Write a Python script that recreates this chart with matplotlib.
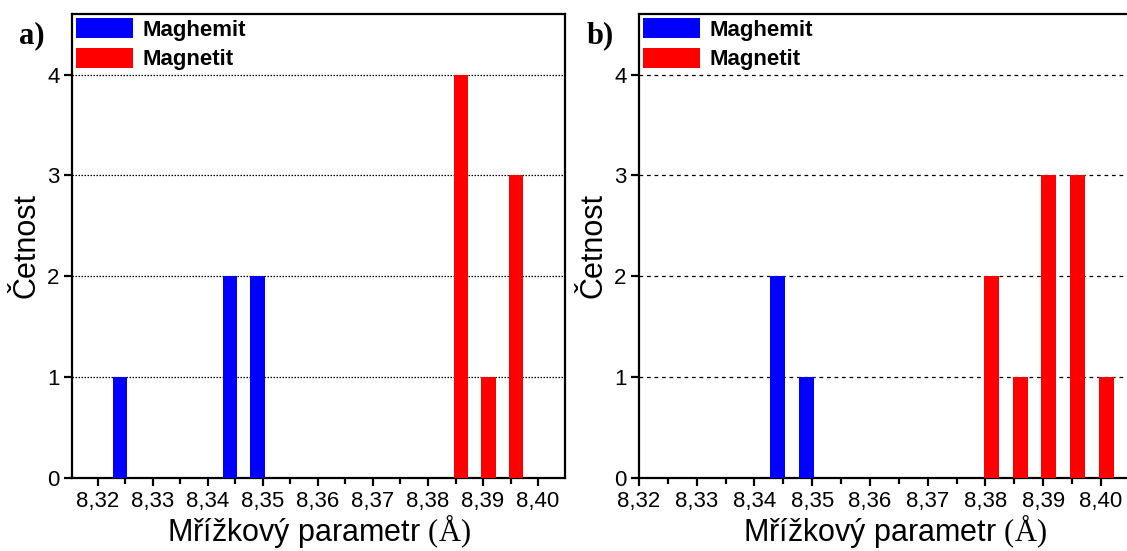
import matplotlib
matplotlib.use("Agg")
import matplotlib.pyplot as plt
from matplotlib.ticker import MultipleLocator, FuncFormatter
from matplotlib.patches import Patch

plt.rcParams['font.family'] = ['Liberation Sans', 'DejaVu Sans']
plt.rcParams['mathtext.fontset'] = 'custom'
plt.rcParams['mathtext.rm'] = 'Liberation Serif'

# Panel a data
a_maghemit_x = [8.324, 8.344, 8.349]
a_maghemit_n = [1, 2, 2]
a_magnetit_x = [8.386, 8.391, 8.396]
a_magnetit_n = [4, 1, 3]

# Panel b data
b_maghemit_x = [8.344, 8.349]
b_maghemit_n = [2, 1]
b_magnetit_x = [8.381, 8.386, 8.391, 8.396, 8.401]
b_magnetit_n = [2, 1, 3, 3, 1]

xticks = [8.32, 8.33, 8.34, 8.35, 8.36, 8.37, 8.38, 8.39, 8.40]
yticks = [0, 1, 2, 3, 4]
series_names = ["Maghemit", "Magnetit"]
panel_labels = ["a)", "b)"]
xlabel = r"Mřížkový parametr $\mathrm{(Å)}$"
ylabel = "Četnost"

W, H = 1127, 551
fig = plt.figure(figsize=(W / 100, H / 100), dpi=100)

def px_axes(l, r, t, b):
    return fig.add_axes([l / W, 1 - b / H, (r - l) / W, (b - t) / H])

ax_a = px_axes(72, 565, 14, 478)
ax_b = px_axes(639, 1150, 14, 478)

bw = 0.0026
blue = "#0000FF"
red = "#FF0000"

configs = [
    (ax_a, a_maghemit_x, a_maghemit_n, a_magnetit_x, a_magnetit_n, (8.3153, 8.4049), (0, (1.2, 1.2))),
    (ax_b, b_maghemit_x, b_maghemit_n, b_magnetit_x, b_magnetit_n, (8.3200, 8.4085), (0, (3, 3))),
]

for i, (ax, mx, mn, gx, gn, xl, ls) in enumerate(configs):
    ax.bar(mx, mn, width=bw, color=blue, zorder=3)
    ax.bar(gx, gn, width=bw, color=red, zorder=3)
    ax.set_xlim(*xl)
    ax.set_ylim(0, 4.6)
    ax.set_xticks(xticks)
    ax.xaxis.set_minor_locator(MultipleLocator(0.005))
    ax.set_yticks(yticks)
    ax.xaxis.set_major_formatter(FuncFormatter(lambda v, p: f"{v:.2f}".replace(".", ",")))
    for y in yticks[1:]:
        ax.axhline(y, color="black", lw=0.9, linestyle=ls, zorder=1)
    for s in ax.spines.values():
        s.set_linewidth(1.6)
    ax.tick_params(axis="both", which="major", direction="out", length=6, width=1.6,
                   labelsize=16, pad=3, colors="black")
    ax.tick_params(axis="x", which="minor", direction="out", length=4, width=1.6)
    ax.set_xlabel(xlabel, fontsize=22, labelpad=0)
    ax.set_ylabel(ylabel, fontsize=22, labelpad=4)
    handles = [Patch(facecolor=blue, edgecolor="none"), Patch(facecolor=red, edgecolor="none")]
    ax.legend(handles, series_names, loc="upper left", frameon=False,
              prop={"weight": "bold", "size": 16},
              handlelength=2.55, handleheight=1.0, handletextpad=0.4,
              labelspacing=0.3, borderaxespad=0.2, borderpad=0.0)
    fig.text((32 if i == 0 else 600) / W, 1 - 36 / H, panel_labels[i],
             fontsize=22, fontweight="bold", family="Liberation Serif",
             ha="center", va="center")

fig.savefig("out.png", dpi=100)
